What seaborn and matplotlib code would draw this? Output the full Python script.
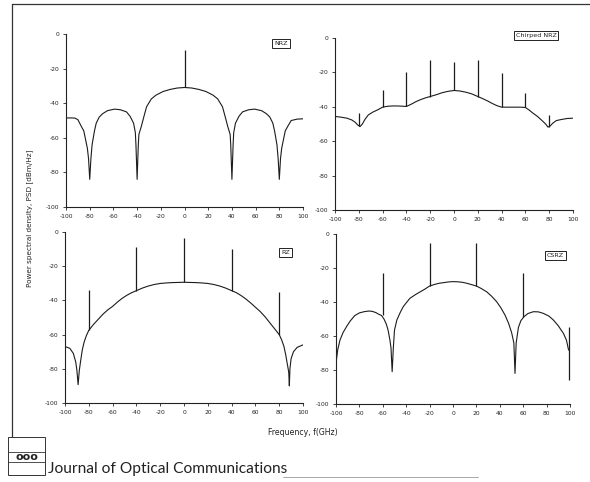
import matplotlib
matplotlib.use("Agg")
import matplotlib.pyplot as plt
import pandas as pd
import seaborn as sns
from matplotlib.lines import Line2D
from matplotlib.patches import Rectangle

# ---- NRZ -------------------------------------------------------------
nrz_f = [-100, -95, -92.5, -90, -87, -85, -83.5, -82, -81, -80, -79, -78, -76, -74.5, -72, -69,
         -65, -59, -54, -49, -46, -43, -41.5, -41, -40, -39, -38.5, -36.5, -34, -32, -28, -24,
         -18, -12, -6, 0, 6, 12, 18, 24, 28, 32, 34, 36.5, 38.5, 39, 40, 41, 41.5, 43, 46, 49,
         54, 59, 65, 69, 72, 74.5, 76, 78, 79, 80, 81, 82, 83.5, 85, 87, 90, 95, 100]
nrz_psd = [-48.5, -48.5, -48.6, -49.5, -53.5, -56, -61, -66, -72, -84, -72, -64, -56, -51.5, -48, -46,
           -44.3, -43.4, -43.8, -45, -47.5, -51.5, -57, -64, -84, -64, -58, -53.5, -47, -42, -37.5, -35.3,
           -33.2, -32, -31.2, -30.9, -31.2, -32, -33.2, -35.3, -37.5, -42, -47, -53.5, -58, -64, -84, -64, -57, -51.5, -47.5, -45,
           -43.8, -43.4, -44.3, -46, -48, -51.5, -56, -64, -72, -84, -72, -66, -61, -56, -53.5, -50, -49.2, -49]
nrz_tone_f = [0]
nrz_tone_lo = [-30.9]
nrz_tone_hi = [-9.3]

# ---- Chirped NRZ -----------------------------------------------------
cnrz_f = [-100, -95, -90, -86, -83, -81, -79, -77, -75, -72, -68, -64, -60, -56, -52, -48, -44, -40,
          -36, -32, -28, -24, -20, -15, -10, -5, 0, 5, 10, 15, 20, 24, 28, 32, 36, 40, 44, 48, 52,
          56, 60, 63, 66, 70, 74, 77, 79, 81, 83, 86, 90, 95, 100]
cnrz_psd = [-45.6, -46.0, -46.6, -47.6, -49, -50.5, -51.5, -50, -47.5, -44.7, -43, -41.7, -40.2, -39.7, -39.5, -39.5, -39.6, -39.8,
            -38.5, -37, -35.8, -34.8, -34, -33, -31.8, -31, -30.5, -30.8, -31.5, -32.5, -34, -35.2, -36.5, -38, -39.3, -40.2, -40.2, -40.2, -40.2,
            -40.2, -40.4, -41.8, -43.5, -45.5, -48, -50, -51.8, -51, -49.5, -48, -47.4, -46.8, -46.6]
cnrz_tone_f = [-80, -60, -40, -20, 0, 20, 40, 60, 80]
cnrz_tone_lo = [-51, -40.2, -39.8, -34, -30.5, -34, -40.2, -40.2, -51.5]
cnrz_tone_hi = [-43.7, -30, -20, -12.6, -14.2, -12.6, -20.4, -31.8, -44.7]

# ---- RZ --------------------------------------------------------------
rz_f = [-100, -96, -93, -91, -90, -89, -88, -87, -85.5, -84, -82, -80, -76, -72, -68, -64, -60, -56,
        -52, -48, -44, -40, -35, -30, -25, -20, -15, -10, -5, 0, 5, 10, 15, 20, 25, 30, 35, 40, 44,
        48, 52, 56, 60, 64, 68, 72, 76, 80, 82, 84, 85.5, 87, 88, 88.5, 89, 90, 92, 95, 100]
rz_psd = [-67, -68, -71, -76, -81, -89.3, -81, -76, -69, -64.5, -60.5, -57.5, -54, -51, -48, -45.5, -43.5, -41,
          -38.8, -37, -35.5, -34.3, -32.8, -31.6, -30.7, -30.1, -29.8, -29.6, -29.5, -29.4, -29.5, -29.6, -29.8, -30.1, -30.7, -31.6, -32.8, -34.3, -35.5,
          -37.2, -39.2, -41.5, -44, -46.5, -49.5, -53, -56.5, -60, -63, -67, -72, -78, -82, -90, -80, -74, -70, -67.5, -66]
rz_tone_f = [-80, -40, 0, 40, 80]
rz_tone_lo = [-57.5, -34.3, -29.4, -34.3, -60]
rz_tone_hi = [-34, -8.7, -3.3, -9.7, -35]

# ---- CSRZ ------------------------------------------------------------
csrz_f = [-100, -98.5, -96.6, -94, -91, -88, -84, -80, -76, -72, -69, -66, -64, -61, -59, -57, -55.5, -54,
          -53, -52, -51, -50, -48, -45, -42.5, -40, -36.8, -32, -28, -24, -20, -16, -12, -8, -4, 0, 4, 8,
          12, 16, 20, 24, 28.8, 33, 37.3, 41, 44.4, 47.5, 50.1, 52, 53, 54, 55.9, 58, 60.7, 64, 68.7, 73,
          77.3, 82, 85.8, 90, 94.4, 97, 98.7, 100]
csrz_psd = [-76, -68, -62.4, -58, -54.5, -51.3, -48, -46.4, -45.7, -45.3, -45.5, -46.2, -47, -48, -50, -53, -56.5, -62,
            -67, -81, -67, -56.5, -50.6, -46, -42.7, -40.5, -37.8, -35.6, -34, -32.4, -30.6, -29.7, -29, -28.6, -28.2, -28, -28.1, -28.4,
            -29, -29.8, -30.6, -32, -34, -36.6, -39.8, -43.5, -47.6, -52.5, -58, -64, -82, -64, -55, -51, -48.6, -46.8, -45.7, -45.8,
            -46.7, -48.3, -50.6, -54, -58.5, -62.5, -68, -69]
csrz_tone_f = [-60, -20, 20, 60, 99.5]
csrz_tone_lo = [-47.6, -30.6, -30.6, -48.6, -86]
csrz_tone_hi = [-22.7, -5.5, -5.5, -23, -54.5]

x_ticks = [-100, -80, -60, -40, -20, 0, 20, 40, 60, 80, 100]
y_ticks = [0, -20, -40, -60, -80, -100]

sns.set_style("ticks")
plt.rcParams["font.family"] = ["DejaVu Sans"]
plt.rcParams["axes.unicode_minus"] = False

fig = plt.figure(figsize=(5.9, 4.82), dpi=100)

LINE = "#1c1c1c"


def draw_panel(rect, f, psd, tf, tlo, thi, name, box_xy):
    ax = fig.add_axes(rect)
    df = pd.DataFrame({"f": f, "psd": psd})
    sns.lineplot(data=df, x="f", y="psd", ax=ax, color=LINE, linewidth=0.8,
                 sort=False, estimator=None)
    ax.vlines(tf, tlo, thi, color=LINE, linewidth=0.9, clip_on=False)
    ax.set_xlim(-100, 100)
    ax.set_ylim(-100, 0)
    ax.set_xticks(x_ticks)
    ax.set_yticks(y_ticks)
    ax.set_xlabel("")
    ax.set_ylabel("")
    ax.tick_params(labelsize=4.3, length=2, width=0.6, pad=3, colors="#222222")
    sns.despine(ax=ax)
    for s in ["left", "bottom"]:
        ax.spines[s].set_linewidth(0.8)
        ax.spines[s].set_color("#222222")
    ax.text(box_xy[0], box_xy[1], name, transform=ax.transAxes, fontsize=4.6,
            ha="center", va="center", color="#222222",
            bbox=dict(boxstyle="square,pad=0.3", fc="white", ec="#222222", lw=0.7))
    return ax


draw_panel([0.1119, 0.5705, 0.4017, 0.3589], nrz_f, nrz_psd, nrz_tone_f, nrz_tone_lo, nrz_tone_hi,
           "NRZ", (0.907, 0.945))
draw_panel([0.5678, 0.5643, 0.4034, 0.3568], cnrz_f, cnrz_psd, cnrz_tone_f, cnrz_tone_lo, cnrz_tone_hi,
           "Chirped NRZ", (0.845, 1.017))
draw_panel([0.1102, 0.1639, 0.4034, 0.3548], rz_f, rz_psd, rz_tone_f, rz_tone_lo, rz_tone_hi,
           "RZ", (0.926, 0.88))
draw_panel([0.5695, 0.1618, 0.3966, 0.3527], csrz_f, csrz_psd, csrz_tone_f, csrz_tone_lo, csrz_tone_hi,
           "CSRZ", (0.936, 0.876))

fig.text(0.051, 0.548, "Power spectral density, PSD [dBm/Hz]", rotation=90, fontsize=5.2,
         ha="center", va="center", color="#222222")
fig.text(0.514, 0.102, "Frequency, f(GHz)", fontsize=5.6, ha="center", va="center", color="#222222")

# page frame of the scanned figure
fig.add_artist(Line2D([0.02, 1.0], [0.992, 0.992], color="#333333", lw=0.9))
fig.add_artist(Line2D([0.02, 0.02], [0.992, 0.093], color="#333333", lw=0.9))

# journal logo + name
fig.add_artist(Rectangle((0.0136, 0.0145), 0.0627, 0.0785, fill=False, ec="#333333", lw=0.7))
fig.add_artist(Line2D([0.0136, 0.0763], [0.062, 0.062], color="#333333", lw=0.6))
fig.add_artist(Line2D([0.0136, 0.0763], [0.042, 0.042], color="#333333", lw=0.6))
fig.text(0.045, 0.052, "ooo", fontsize=8, ha="center", va="center", color="#222222", weight="bold")
fig.text(0.081, 0.018, "Journal of Optical Communications",
         family="Lato", fontsize=11.2, ha="left", va="baseline", color="#222222")
fig.add_artist(Line2D([0.48, 0.81], [0.01, 0.01], color="#999999", lw=0.6))

fig.savefig("out.png", dpi=100)
